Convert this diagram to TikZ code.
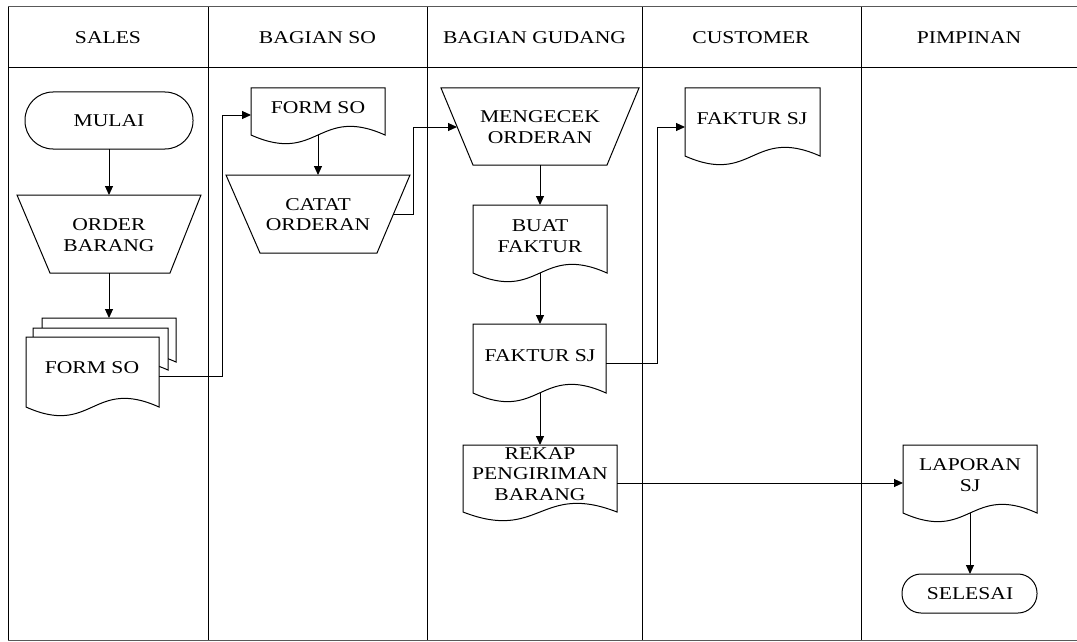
\documentclass[tikz,border=0pt]{standalone}
\usepackage{fontspec}
\setmainfont{Liberation Serif}[FakeStretch=1.2]
\usetikzlibrary{arrows.meta}
\newcommand\mydoc[5]{% name, x1, ytop, x2, ybottom-ends
  \draw[shp] (#4,#5) -- (#4,#3) -- (#2,#3) -- (#2,#5)
    .. controls ({(#2+#4)/2},{#5+30}) and ({(#2+#4)/2},{#5-30}) .. (#4,#5) -- cycle;
}
\begin{document}
\begin{tikzpicture}[x=1pt,y=-1pt,
  line width=1pt,
  txt/.style={font=\fontsize{18}{20.5}\selectfont, align=center, inner sep=0pt},
  arr/.style={-{Triangle[length=9pt,width=8pt]}},
  shp/.style={draw, fill=white, line join=miter},
]
\useasboundingbox (0,0) rectangle (1077,642);

% swimlane frame
\draw[black!65] (8,7) -- (1077,7);
\draw[black!65] (8,640) -- (1077,640);
\draw (8,7) -- (8,640);
\foreach \x in {208,427,642,861} \draw (\x,7) -- (\x,640);
\draw (8,68) -- (1077,68);

% headers
\node[txt] (hsales) at (108,38) {SALES};
\node[txt] (hso) at (317.5,38) {BAGIAN SO};
\node[txt] (hgud) at (534.5,38) {BAGIAN GUDANG};
\node[txt] (hcust) at (751,38) {CUSTOMER};
\node[txt] (hpim) at (969,38) {PIMPINAN};

% ---- SALES ----
\draw[shp, rounded corners=28pt] (25,92) rectangle (193,149);
\node[txt] (mulai) at (109,121) {MULAI};
\coordinate (mulaiB) at (109,149);

\draw[shp] (17,195) -- (201,195) -- (170,273) -- (50,273) -- cycle;
\node[txt] (order) at (109,235) {ORDER\\BARANG};
\coordinate (orderT) at (109,195);
\coordinate (orderB) at (109,273);

\mydoc{fso3}{42}{318}{176}{362}
\mydoc{fso2}{33}{328}{168}{370}
\mydoc{fso1}{26}{337}{159}{407}
\node[txt] (formso1) at (92,368) {FORM SO};
\coordinate (fso3T) at (109,318);
\coordinate (fso1R) at (159,376);
\coordinate (bend1) at (222,115);

% ---- BAGIAN SO ----
\mydoc{fso}{251}{88}{385}{135}
\node[txt] (formso2) at (318,108) {FORM SO};
\coordinate (fsoL) at (251,115);
\coordinate (fsoB) at (318,135);

\draw[shp] (226,175) -- (410,175) -- (377,253) -- (260,253) -- cycle;
\node[txt] (catat) at (318,214.5) {CATAT\\ORDERAN};
\coordinate (catatT) at (318,175);
\coordinate (catatR) at (393,214);
\coordinate (bend2a) at (413,214);
\coordinate (bend2b) at (413,127);

% ---- BAGIAN GUDANG ----
\draw[shp] (441,88) -- (639,88) -- (607,165) -- (473,165) -- cycle;
\node[txt] (cek) at (540,127) {MENGECEK\\ORDERAN};
\coordinate (cekL) at (457,127);
\coordinate (cekB) at (540,165);

\mydoc{buat}{473}{205}{607}{273}
\node[txt] (buat) at (540,236) {BUAT\\FAKTUR};
\coordinate (buatT) at (540,205);
\coordinate (buatB) at (540,273);

\mydoc{fsj}{473}{324}{606}{393}
\node[txt] (faktursj) at (540,356) {FAKTUR SJ};
\coordinate (fsjT) at (540,324);
\coordinate (fsjB) at (540,393);
\coordinate (fsjR) at (606,363);
\coordinate (bend3a) at (657,363);
\coordinate (bend3b) at (657,127);

\mydoc{rekap}{463}{445}{617}{512}
\node[txt] (rekap) at (540,474) {REKAP\\PENGIRIMAN\\BARANG};
\coordinate (rekapT) at (540,445);
\coordinate (rekapR) at (617,483);

% ---- CUSTOMER ----
\mydoc{fsjc}{685}{88}{820}{156}
\node[txt] (faktursjc) at (752,119) {FAKTUR SJ};
\coordinate (fsjcL) at (685,127);

% ---- PIMPINAN ----
\mydoc{lap}{903}{445}{1037}{513}
\node[txt] (laporan) at (970,475) {LAPORAN\\SJ};
\coordinate (lapL) at (903,483);
\coordinate (lapB) at (970,513);

\draw[shp, rounded corners=19pt] (902,574) rectangle (1037,613);
\node[txt] (selesai) at (970,594) {SELESAI};
\coordinate (selesaiT) at (970,574);

% ---- connectors ----
\draw[arr] (mulaiB) -- (orderT);
\draw[arr] (orderB) -- (fso3T);
\draw[arr] (fso1R) -| (bend1) -- (fsoL);
\draw[arr] (fsoB) -- (catatT);
\draw[arr] (catatR) -- (bend2a) -- (bend2b) -- (cekL);
\draw[arr] (cekB) -- (buatT);
\draw[arr] (buatB) -- (fsjT);
\draw[arr] (fsjR) -- (bend3a) -- (bend3b) -- (fsjcL);
\draw[arr] (fsjB) -- (rekapT);
\draw[arr] (rekapR) -- (lapL);
\draw[arr] (lapB) -- (selesaiT);
\end{tikzpicture}
\end{document}
